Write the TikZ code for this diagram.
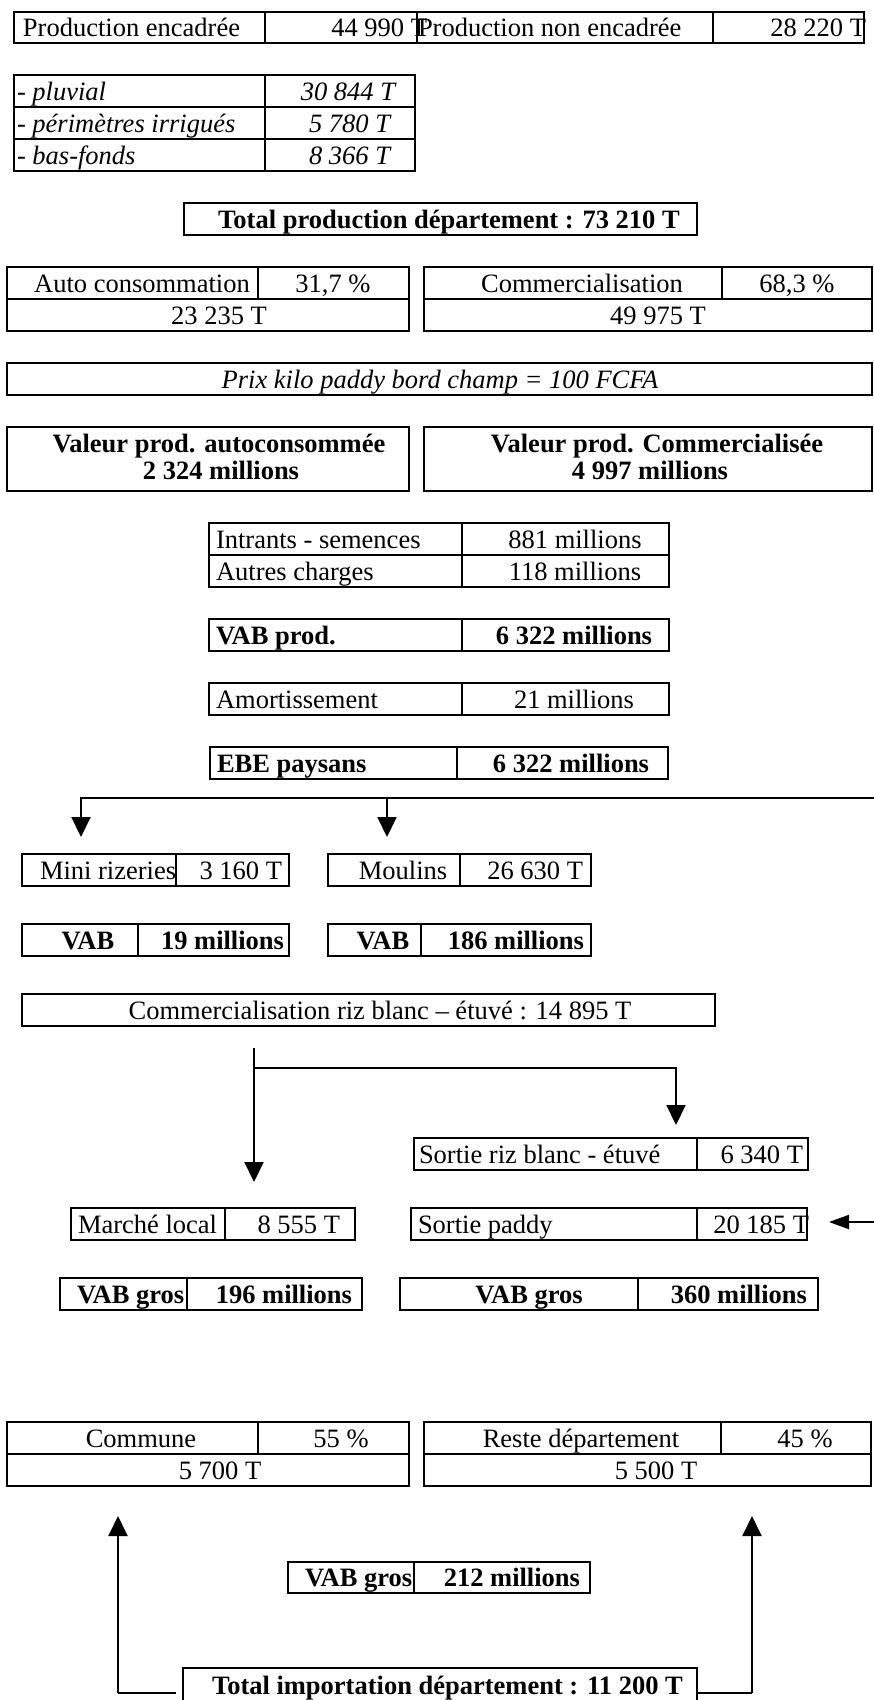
\documentclass[tikz,border=0pt]{standalone}
\usepackage{fontspec}
\setmainfont{Liberation Serif}
\usetikzlibrary{arrows.meta}

% a table cell: name, left, top, right, bottom (pixel grid, y downwards)
\newcommand\mkcell[5]{\node[box, minimum width={(#4-#2)*1pt}, minimum height={(#5-#3)*1pt}] (#1) at (#2,#3) {};}
% a text run: [style] name, anchor, x, baseline y, text
\newcommand\mktext[6][lbl]{\node[#1, anchor=#3] (#2) at (#4,#5) {#6};}

\begin{document}
\begin{tikzpicture}[x=1pt, y=-1pt,
  box/.style={draw, rectangle, line width=1.1pt, inner sep=0pt, outer sep=0pt, anchor=north west},
  lbl/.style={inner sep=0pt, outer sep=0pt, font=\fontsize{26.5}{30}\selectfont},
  bl/.style={lbl, font=\fontsize{26.5}{30}\selectfont\bfseries},
  it/.style={lbl, font=\fontsize{26.5}{30}\selectfont\itshape},
  conn/.style={line width=2pt},
  arr/.style={conn, -{Triangle[length=20pt,width=19pt]}},
  arrs/.style={conn, -{Triangle[length=20pt,width=14pt]}},
  foot/.style={line width=2.6pt}
]
\useasboundingbox (0,0) rectangle (874,1700);
\fill[white] (0,0) rectangle (874,1700);

% ---- production by type
\mkcell{pe}{14}{12}{265}{43}
\mkcell{pev}{265}{12}{417}{43}
\mkcell{pne}{417}{12}{713}{43}
\mkcell{pnev}{713}{12}{864}{43}
\mktext{tpe}{base west}{23}{36}{Production encadrée}
\mktext{tpev}{base east}{427}{36}{44 990 T}
\mktext{tpne}{base west}{418}{36}{Production non encadrée}
\mktext{tpnev}{base east}{866}{36}{28 220 T}

% ---- breakdown of the supervised production
\mkcell{plu}{14}{75}{265}{107}
\mkcell{pluv}{265}{75}{415}{107}
\mkcell{per}{14}{107}{265}{139}
\mkcell{perv}{265}{107}{415}{139}
\mkcell{bas}{14}{139}{265}{171}
\mkcell{basv}{265}{139}{415}{171}
\mktext[it]{tplu}{base west}{17}{100}{- pluvial}
\mktext[it]{tpluv}{base east}{395}{100}{30 844 T}
\mktext[it]{tper}{base west}{17}{132}{- périmètres irrigués}
\mktext[it]{tperv}{base east}{390}{132}{5 780 T}
\mktext[it]{tbas}{base west}{17}{164}{- bas-fonds}
\mktext[it]{tbasv}{base east}{390}{164}{8 366 T}

% ---- total
\mkcell{totp}{184}{203}{697}{235}
\mktext[bl]{ttotp}{base}{449}{228}{Total production département : 73 210 T}

% ---- use of the production
\mkcell{auto}{7}{267}{258}{299}
\mkcell{autoq}{258}{267}{409}{299}
\mkcell{autov}{7}{299}{409}{331}
\mkcell{com}{424}{267}{722}{299}
\mkcell{comq}{722}{267}{872}{299}
\mkcell{comv}{424}{299}{872}{331}
\mktext{tauto}{base}{142}{292}{Auto consommation}
\mktext{tautoq}{base}{333}{292}{31,7 \%}
\mktext{tautov}{base}{219}{324}{23 235 T}
\mktext{tcom}{base}{582}{292}{Commercialisation}
\mktext{tcomq}{base}{797}{292}{68,3 \%}
\mktext{tcomv}{base}{658}{324}{49 975 T}

% ---- price
\mkcell{prix}{7}{363}{872}{395}
\mktext[it]{tprix}{base}{440}{388}{Prix kilo paddy bord champ = 100 FCFA}

% ---- values
\mkcell{valA}{7}{427}{409}{491}
\mkcell{valC}{424}{427}{872}{491}
\mktext[bl]{tvalA1}{base}{219}{452}{Valeur prod. autoconsommée}
\mktext[bl]{tvalA2}{base}{221}{479}{2 324 millions}
\mktext[bl]{tvalC1}{base}{657}{452}{Valeur prod. Commercialisée}
\mktext[bl]{tvalC2}{base}{650}{479}{4 997 millions}

% ---- producer accounts
\mkcell{intr}{209}{523}{462}{555}
\mkcell{intrv}{462}{523}{669}{555}
\mkcell{autr}{209}{555}{462}{587}
\mkcell{autrv}{462}{555}{669}{587}
\mktext{tintr}{base west}{216}{548}{Intrants - semences}
\mktext{tintrv}{base}{575}{548}{881 millions}
\mktext{tautr}{base west}{216}{580}{Autres charges}
\mktext{tautrv}{base}{575}{580}{118 millions}

\mkcell{vab}{209}{619}{462}{651}
\mkcell{vabv}{462}{619}{669}{651}
\mktext[bl]{tvab}{base west}{216}{644}{VAB prod.}
\mktext[bl]{tvabv}{base}{574}{644}{6 322 millions}

\mkcell{amo}{209}{683}{462}{715}
\mkcell{amov}{462}{683}{669}{715}
\mktext{tamo}{base west}{216}{708}{Amortissement}
\mktext{tamov}{base}{574}{708}{21 millions}

\mkcell{ebe}{210}{747}{457}{779}
\mkcell{ebev}{457}{747}{668}{779}
\mktext[bl]{tebe}{base west}{217}{772}{EBE paysans}
\mktext[bl]{tebev}{base}{571}{772}{6 322 millions}

% ---- distribution bus towards processing
\coordinate (busR) at (874,798);
\coordinate (busL) at (81,798);
\coordinate (busM) at (387,798);
\coordinate (tipRow) at (0,837);
\draw[arr] (busR) -- (busL) -- (busL |- tipRow);
\draw[arr] (busM) -- (busM |- tipRow);

% ---- processing
\mkcell{mini}{22}{854}{176}{886}
\mkcell{miniv}{176}{854}{289}{886}
\mkcell{moul}{328}{854}{460}{886}
\mkcell{moulv}{460}{854}{591}{886}
\mktext{tmini}{base west}{40}{879}{Mini rizeries}
\mktext{tminiv}{base east}{282}{879}{3 160 T}
\mktext{tmoul}{base}{403}{879}{Moulins}
\mktext{tmoulv}{base east}{583}{879}{26 630 T}

\mkcell{vabm}{22}{924}{138}{956}
\mkcell{vabmv}{138}{924}{289}{956}
\mkcell{vabo}{328}{924}{421}{956}
\mkcell{vabov}{421}{924}{591}{956}
\mktext[bl]{tvabm}{base}{88}{949}{VAB}
\mktext[bl]{tvabmv}{base east}{284}{949}{19 millions}
\mktext[bl]{tvabo}{base}{383}{949}{VAB}
\mktext[bl]{tvabov}{base east}{584}{949}{186 millions}

\mkcell{crb}{22}{994}{715}{1026}
\mktext{tcrb}{base}{380}{1019}{Commercialisation riz blanc – étuvé : 14 895 T}

% ---- split of the white / parboiled rice
\coordinate (spl) at (254,1048);
\coordinate (splJ) at (254,1068);
\coordinate (splR) at (676,1068);
\coordinate (tipML) at (254,1182);
\coordinate (tipSRB) at (676,1125);
\draw[arr] (spl) -- (tipML);
\draw[arr] (splJ) -- (splR) -- (tipSRB);

\mkcell{srb}{414}{1138}{697}{1170}
\mkcell{srbv}{697}{1138}{808}{1170}
\mktext{tsrb}{base west}{419}{1163}{Sortie riz blanc - étuvé}
\mktext{tsrbv}{base east}{803}{1163}{6 340 T}

\mkcell{ml}{71}{1208}{225}{1240}
\mkcell{mlv}{225}{1208}{355}{1240}
\mktext{tml}{base west}{78}{1233}{Marché local}
\mktext{tmlv}{base east}{340}{1233}{8 555 T}

\mkcell{sp}{411}{1208}{697}{1240}
\mkcell{spv}{697}{1208}{807}{1240}
\mktext{tsp}{base west}{418}{1233}{Sortie paddy}
\mktext{tspv}{base east}{809}{1233}{20 185 T}

\coordinate (inR) at (874,1222);
\coordinate (tipSP) at (829,1222);
\draw[arrs] (inR) -- (tipSP);

\mkcell{vg1}{60}{1278}{187}{1310}
\mkcell{vg1v}{187}{1278}{362}{1310}
\mktext[bl]{tvg1}{base west}{77}{1303}{VAB gros}
\mktext[bl]{tvg1v}{base east}{352}{1303}{196 millions}

\mkcell{vg2}{400}{1278}{638}{1310}
\mkcell{vg2v}{638}{1278}{818}{1310}
\mktext[bl]{tvg2}{base}{529}{1303}{VAB gros}
\mktext[bl]{tvg2v}{base east}{807}{1303}{360 millions}

% ---- imports
\mkcell{cm}{7}{1422}{258}{1454}
\mkcell{cmq}{258}{1422}{409}{1454}
\mkcell{cmv}{7}{1454}{409}{1486}
\mkcell{rd}{424}{1422}{721}{1454}
\mkcell{rdq}{721}{1422}{871}{1454}
\mkcell{rdv}{424}{1454}{871}{1486}
\mktext{tcm}{base}{141}{1447}{Commune}
\mktext{tcmq}{base}{341}{1447}{55 \%}
\mktext{tcmv}{base}{220}{1479}{5 700 T}
\mktext{trd}{base}{581}{1447}{Reste département}
\mktext{trdq}{base}{805}{1447}{45 \%}
\mktext{trdv}{base}{656}{1479}{5 500 T}

\mkcell{vg3}{288}{1562}{414}{1593}
\mkcell{vg3v}{414}{1562}{590}{1593}
\mktext[bl]{tvg3}{base west}{305}{1586}{VAB gros}
\mktext[bl]{tvg3v}{base east}{580}{1586}{212 millions}

% total imports: box open at the page foot
\node[inner sep=0pt, outer sep=0pt, anchor=north west, minimum width=514pt, minimum height=32pt] (imp) at (183,1668) {};
\draw[line width=1.1pt] (imp.south west) -- (imp.north west) -- (imp.north east) -- (imp.south east);
\mktext[bl]{timp}{base west}{212}{1694}{Total importation département : 11 200 T}

\coordinate (fL) at (176,1693);
\coordinate (fLc) at (118,1693);
\coordinate (tipCm) at (118,1516);
\coordinate (fR) at (697,1693);
\coordinate (fRc) at (752,1693);
\coordinate (tipRd) at (752,1516);
\draw[foot] (fL) -- (fLc);
\draw[foot] (fR) -- (fRc);
\draw[arr] (fLc) -- (tipCm);
\draw[arr] (fRc) -- (tipRd);
\end{tikzpicture}
\end{document}
